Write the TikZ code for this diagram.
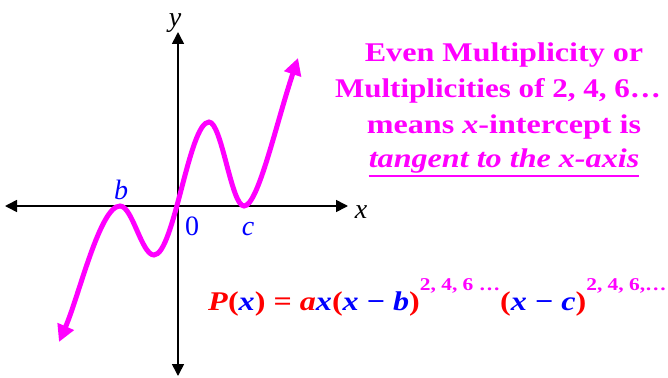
\documentclass[tikz,border=0pt]{standalone}
\usepackage{fontspec}
\setmainfont{Liberation Serif}
\usetikzlibrary{arrows.meta}
\definecolor{mag}{RGB}{255,0,255}
\definecolor{rd}{RGB}{255,0,0}
\definecolor{bl}{RGB}{0,0,255}
\tikzset{
  axis/.style={line width=1.6pt,{Triangle[length=12pt,width=12pt]}-{Triangle[length=12pt,width=12pt]}},
  curve/.style={mag,line width=5pt,{Triangle[length=17pt,width=17pt]}-{Triangle[length=17pt,width=17pt]}},
  lbl/.style={font=\fontsize{28}{28}\selectfont,inner sep=0pt,anchor=base},
  ilbl/.style={lbl,font=\fontsize{28}{28}\selectfont\itshape},
  note/.style={mag,font=\fontsize{27}{27}\selectfont\bfseries,inner sep=0pt,anchor=base},
}
\newcommand{\R}[1]{\textcolor{rd}{#1}}
\newcommand{\B}[1]{\textcolor{bl}{#1}}
\newcommand{\Sup}[1]{\raisebox{20pt}{\textcolor{mag}{\fontsize{18}{18}\selectfont #1}}}
\newcommand{\Wide}[2][1.19]{\scalebox{#1}[1]{#2}}
\begin{document}
\begin{tikzpicture}[x=1pt,y=1pt]
\useasboundingbox (0,0) rectangle (668,-377);
% axes
\coordinate (xl) at (5,-206);
\coordinate (xr) at (348,-206);
\coordinate (yb) at (178,-376);
\coordinate (yt) at (178,-32);
\draw[axis] (xl) -- (xr);
\draw[axis] (yb) -- (yt);
% curve
\coordinate (s) at (59,-342);
\coordinate (b) at (120,-206);
\coordinate (m1) at (154,-255);
\coordinate (m2) at (209,-122);
\coordinate (c) at (244,-206);
\coordinate (e) at (298,-58);
\draw[curve] (s) .. controls (79,-296) and (100,-206) .. (b)
  .. controls (132.4,-206) and (141.6,-255) .. (m1)
  .. controls (174,-255) and (189,-122) .. (m2)
  .. controls (221.7,-122) and (231.3,-206) .. (c)
  .. controls (258,-206) and (276,-124) .. (e);
% labels
\node[ilbl,bl] (lb) at (121,-199) {b};
\node[lbl,bl] (l0) at (192,-235) {0};
\node[ilbl,bl] (lc) at (248,-235) {c};
\node[ilbl] (lx) at (361,-218) {x};
\node[ilbl] (ly) at (175,-27) {y};
% note
\node[note] (n1) at (504,-62) {\Wide{Even Multiplicity or}};
\node[note] (n2) at (498,-98) {\Wide[1.15]{Multiplicities of 2, 4, 6…}};
\node[note] (n3) at (504,-133) {\Wide{means \textit{x}-intercept is}};
\node[note] (n4) at (504,-167) {\Wide{\textit{tangent to the x-axis}}};
\draw[mag,line width=2pt] ([yshift=-9pt]n4.base west) -- ([yshift=-9pt]n4.base east);
% formula
\node[note,anchor=base west] (f) at (208,-310) {\Wide{\R{\textit{P}(}\B{\textit{x}}\R{)} \R{= \textit{a}}\B{\textit{x}}\R{(}\B{\textit{x} − \textit{b}}\R{)}\Sup{2, 4, 6 …}\R{(}\B{\textit{x} − \textit{c}}\R{)}\Sup{2, 4, 6,…}}};
\end{tikzpicture}
\end{document}
